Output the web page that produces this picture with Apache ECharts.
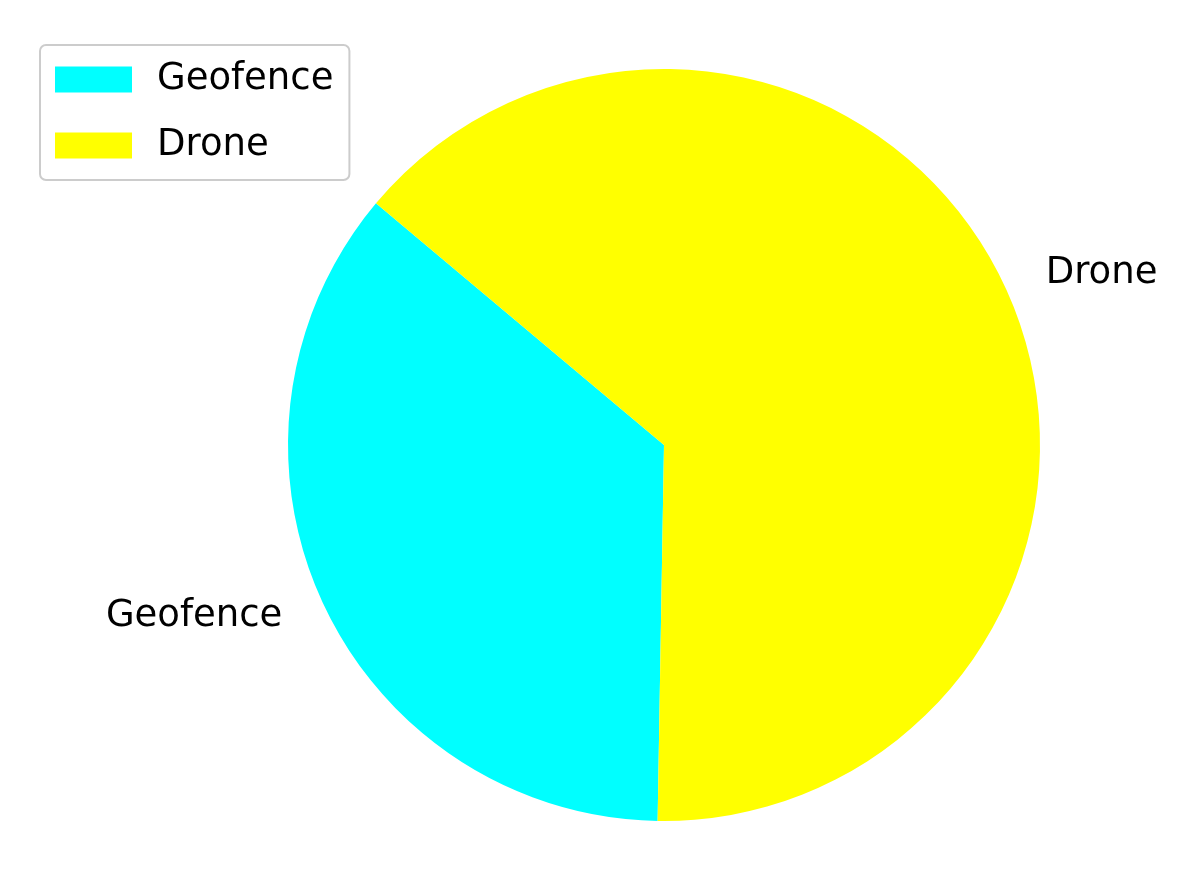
<!DOCTYPE html>
<html lang="en">
<head>
    <meta charset="UTF-8">
    <title>Geofence vs Drone</title>
    <script src="https://cdn.jsdelivr.net/npm/echarts@6/dist/echarts.min.js"></script>
    <style>
        body { margin: 0; padding: 0; background: #fff; }
        #chart { width: 1198px; height: 881px; }
    </style>
</head>
<body>
<div id="chart"></div>
<script>
    const categories = ['Geofence', 'Drone']
    const values = [81, 145]
    const colors = ['#00ffff', '#ffff00']

    const R = 376
    const font = 'DejaVu Sans'
    const data = categories.map((name, i) => ({ name: name, value: values[i], itemStyle: { color: colors[i] } }))

    const chart = echarts.init(document.getElementById('chart'))
    chart.setOption({
        animation: false,
        legend: {
            orient: 'vertical',
            left: 40, top: 45,
            padding: [16, 16, 16, 15],
            itemWidth: 77, itemHeight: 26, itemGap: 29,
            borderColor: '#cccccc', borderWidth: 2, borderRadius: 6,
            icon: 'rect',
            data: categories,
            textStyle: { fontFamily: font, fontSize: 37, color: '#000', padding: [0, 0, 0, 20] }
        },
        series: [
            {
                type: 'pie',
                center: [664, 445],
                radius: [0, R],
                startAngle: 140,
                clockwise: false,
                data: data,
                label: { show: true, position: 'outside', formatter: '{b}', fontFamily: font, fontSize: 37, color: '#000' },
                labelLine: { show: false, length: 38, length2: 0 },
                emphasis: { disabled: true }
            },
            {
                type: 'pie',
                silent: true,
                center: [664, 445],
                radius: [0, R * 1.2],
                startAngle: 140,
                clockwise: false,
                data: data.map(d => ({ name: d.name, value: d.value })),
                itemStyle: { opacity: 0 },
                label: { show: true, position: 'inside', formatter: '{c}', fontFamily: font, fontSize: 36, color: '#000' },
                labelLine: { show: false }
            }
        ]
    })
</script>
</body>
</html>
